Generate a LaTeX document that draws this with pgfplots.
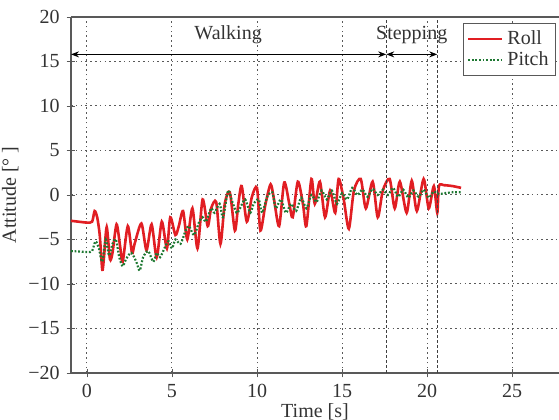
\documentclass[border=0pt]{standalone}
\usepackage{fontspec}
\setmainfont{Liberation Serif}
\usepackage{pgfplots}
\pgfplotsset{compat=1.18}
\usetikzlibrary{arrows.meta}
\definecolor{rollred}{RGB}{225,30,35}
\definecolor{pitchgreen}{RGB}{30,120,50}
\newcommand{\fs}{\fontsize{10}{12}\selectfont}
\begin{document}
\begin{tikzpicture}
\begin{axis}[name=ax,
  scale only axis, width=244pt, height=178pt,
  xmin=-0.94, xmax=27.76, ymin=-20, ymax=20,
  axis lines=left, axis line style={-, black!65, line width=0.6pt},
  xtick={0,5,...,25}, ytick={-20,-15,...,20},
  yticklabels={−20,−15,−10,−5,0,5,10,15,20},
  grid=major, major grid style={black!65, dash pattern=on 0.8pt off 1.6pt, line width=0.5pt},
  tick style={black!65},
  /pgf/number format/assume math mode=true,
  tick label style={font=\fs, text=black!80},
  label style={font=\fs, text=black!80},
  xlabel={Time [s]}, ylabel={Attitude [° ]},
  xlabel style={yshift=4pt},
  ylabel style={yshift=-2pt},
  legend style={font=\fs, at={(1,1)}, anchor=north east, xshift=-1.5pt, yshift=-3pt,
    draw=black!65, inner sep=1.5pt, row sep=-2pt, text=black!80},
  legend cell align=left,
  legend image code/.code={\draw[#1] (0pt,0pt) -- (17pt,0pt);},
  clip=true,
]
\addplot[rollred, line width=1.3pt, smooth, tension=0.45] coordinates {
(-0.94,-2.9)(-0.5,-3.0)(0,-3.1)(0.3,-3.0)(0.45,-1.8)(0.6,-2.5)(0.75,-4.5)(0.9,-8.4)(1.0,-7.0)(1.16,-3.6)
(1.35,-7.2)(1.5,-6.5)(1.74,-3.3)(1.95,-5.8)(2.1,-7.5)(2.4,-3.5)(2.65,-6.5)(2.8,-5.5)(3.2,-3.2)(3.5,-6.2)
(3.8,-3.3)(4.1,-7.0)(4.4,-3.0)(4.7,-6.0)(4.9,-2.5)(5.2,-4.5)(5.4,-3.5)(5.65,-1.8)(5.9,-5.0)(6.2,-1.5)
(6.5,-6.0)(6.8,-0.5)(7.1,-3.5)(7.3,-1.5)(7.6,-0.8)(7.85,-5.5)(8.1,-1.0)(8.4,0.3)(8.7,-4.0)(8.9,-1.0)
(9.1,1.0)(9.4,-3.0)(9.7,-0.2)(10.0,0.8)(10.2,-4.0)(10.5,-1.0)(10.8,1.2)(11.0,-0.5)(11.3,-3.5)(11.6,1.4)
(11.9,-1.0)(12.1,-2.5)(12.4,1.5)(12.7,-1.0)(12.9,-3.5)(13.2,1.8)(13.4,-1.0)(13.7,1.5)(14.0,-2.5)(14.3,0.5)
(14.6,-2.0)(14.8,1.8)(15.1,-0.5)(15.4,-3.8)(15.7,0.5)(16.1,1.8)(16.4,-1.5)(16.8,1.5)(17.1,-2.5)(17.4,0.5)
(17.8,1.8)(18.1,-1.5)(18.4,1.5)(18.8,-2.0)(19.1,1.6)(19.4,-1.8)(19.8,1.8)(20.1,-1.5)(20.4,1.0)(20.6,-2.0)
(20.7,1.0)(21.0,1.1)(21.5,1.0)(22.0,0.8)
};
\addlegendentry{Roll}
\addplot[pitchgreen, line width=1.1pt, dash pattern=on 0.9pt off 0.9pt, smooth, tension=0.45] coordinates {
(-0.94,-6.3)(0,-6.4)(0.3,-6.3)(0.5,-5.2)(0.7,-6.0)(0.9,-7.5)(1.1,-5.0)(1.3,-6.8)(1.5,-5.5)(1.7,-5.0)
(1.9,-7.0)(2.1,-8.0)(2.3,-7.2)(2.6,-6.5)(2.9,-7.5)(3.1,-8.5)(3.3,-7.0)(3.6,-6.3)(3.9,-7.5)(4.1,-6.5)
(4.3,-7.0)(4.6,-5.8)(4.8,-5.2)(5.0,-6.0)(5.2,-5.0)(5.5,-5.5)(5.8,-4.0)(6.0,-3.5)(6.3,-4.5)(6.6,-3.0)
(6.8,-2.5)(7.0,-3.0)(7.3,-1.5)(7.5,-2.0)(7.8,-1.0)(8.0,-2.5)(8.3,0.5)(8.5,-0.5)(8.8,-2.0)(9.0,-1.5)
(9.3,-0.5)(9.6,-2.0)(9.8,-1.0)(10.1,-0.5)(10.3,-2.0)(10.6,-0.2)(10.9,0.3)(11.1,-1.5)(11.4,-0.5)(11.7,-2.0)
(12.0,-1.0)(12.3,-1.8)(12.6,-0.3)(12.9,-1.5)(13.2,0.0)(13.5,-0.8)(13.8,0.5)(14.1,-0.5)(14.4,0.5)(14.7,-1.0)
(15.0,0.2)(15.3,-0.5)(15.6,0.8)(15.9,0.0)(16.2,0.6)(16.5,-0.2)(16.8,0.7)(17.1,0.0)(17.4,0.6)(17.7,0.0)
(18.0,0.8)(18.3,-0.2)(18.6,0.6)(18.9,-0.3)(19.2,0.5)(19.5,-0.2)(19.8,0.6)(20.1,-0.3)(20.4,0.4)(20.7,0.1)
(21.0,0.2)(21.5,0.3)(22.0,0.3)
};
\addlegendentry{Pitch}
% phase markers
\draw[black!75, line width=0.7pt, dash pattern=on 1.5pt off 1pt] (axis cs:17.6,-20) -- (axis cs:17.6,20);
\draw[black!75, line width=0.7pt, dash pattern=on 1.5pt off 1pt] (axis cs:20.6,-20) -- (axis cs:20.6,20);
\draw[black, line width=0.6pt, {Stealth[length=4pt,width=3pt]}-{Stealth[length=4pt,width=3pt]}] (axis cs:-0.94,15.8) -- (axis cs:17.6,15.8);
\draw[black, line width=0.6pt, {Stealth[length=4pt,width=3pt]}-{Stealth[length=4pt,width=3pt]}] (axis cs:17.6,15.8) -- (axis cs:20.6,15.8);
\node[font=\fs, text=black!80] at (axis cs:8.3,18) {Walking};
\node[font=\fs, text=black!80] at (axis cs:19.1,18) {Stepping};
\end{axis}
\draw[black!65, line width=0.6pt] (ax.north west) -- (ax.north east);
\pgfresetboundingbox
\path ([shift={(-35.5pt,-23.5pt)}]ax.south west) rectangle ([shift={(0pt,8.5pt)}]ax.north east);
\end{tikzpicture}
\end{document}
